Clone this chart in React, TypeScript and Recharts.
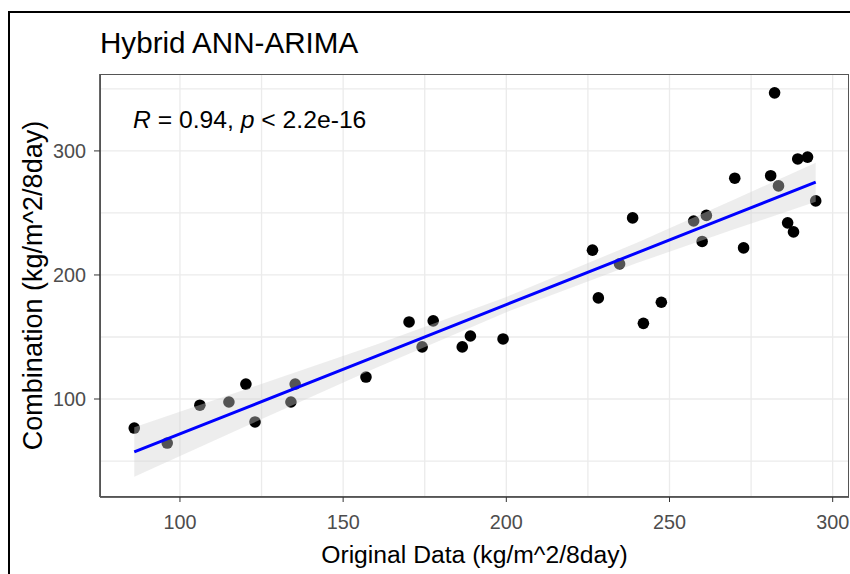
import React from "react";
import {
  ComposedChart,
  Scatter,
  Area,
  Line,
  XAxis,
  YAxis,
  CartesianGrid,
} from "recharts";

const originalData = [
  86.0, 96.1, 106.1, 115.0, 120.2, 123.0, 134.0, 135.3, 157.0, 170.2, 174.2,
  177.6, 186.5, 189.0, 199.0, 226.4, 228.2, 234.7, 238.7, 242.0, 247.5, 257.4,
  260.0, 261.3, 270.0, 272.7, 281.0, 282.2, 283.4, 286.2, 288.0, 289.3, 292.3,
  294.8,
];
const combination = [
  76.6, 64.5, 95.0, 97.6, 112.0, 81.5, 97.6, 112.0, 117.7, 162.1, 142.0, 163.0,
  142.0, 150.8, 148.4, 220.0, 181.5, 208.9, 246.0, 161.0, 178.0, 243.5, 227.0,
  248.0, 278.0, 221.8, 280.0, 346.8, 271.8, 242.0, 234.7, 293.5, 295.0, 259.7,
];

// smoother line and its confidence band
const fitX = [86.0, 120, 160, 200, 240, 270, 294.8];
const fitY = [57.3, 92.7, 134.4, 176.1, 217.8, 249.0, 274.9];
const bandLow = [37.3, 77.8, 125.0, 170.0, 209.6, 237.0, 259.0];
const bandHigh = [77.3, 107.6, 143.8, 182.2, 226.0, 261.0, 290.5];

const xTicks = [100, 150, 200, 250, 300];
const yTicks = [100, 200, 300];
const xGrid = [100, 125, 150, 175, 200, 225, 250, 275, 300];
const yGrid = [50, 100, 150, 200, 250, 300, 350];

const points = originalData.map((x, i) => ({ x, y: combination[i] }));
const fitData = fitX.map((x, i) => ({
  x,
  fit: fitY[i],
  band: [bandLow[i], bandHigh[i]],
}));

const FONT = "'Liberation Sans', Arial, Helvetica, sans-serif";

const Dot = (props: any) => (
  <circle cx={props.cx} cy={props.cy} r={5.8} fill="#000000" />
);

export default function App() {
  return (
    <div
      style={{
        position: "absolute",
        left: 0,
        top: 0,
        width: 850,
        height: 574,
        overflow: "hidden",
        background: "#ffffff",
        fontFamily: FONT,
      }}
    >
      {/* outer frame */}
      <div
        style={{
          position: "absolute",
          left: 8,
          top: 11,
          width: 860,
          height: 600,
          border: "2px solid #000",
        }}
      />
      <ComposedChart
        width={850}
        height={574}
        margin={{ top: 74, right: 1, left: 0, bottom: 0 }}
        style={{ position: "absolute", left: 0, top: 0 }}
      >
        <CartesianGrid
          stroke="#ebebeb"
          strokeWidth={1.3}
          verticalValues={xGrid}
          horizontalValues={yGrid}
        />
        <XAxis
          dataKey="x"
          type="number"
          domain={[75.5, 305]}
          allowDataOverflow
          ticks={xTicks}
          height={77}
          tickSize={5}
          tickMargin={13}
          stroke="#333333"
          tick={{ fill: "#4d4d4d", fontSize: 19.8, fontFamily: FONT }}
          axisLine={{ stroke: "#333333", strokeWidth: 1.5 }}
        />
        <YAxis
          type="number"
          domain={[21, 362]}
          allowDataOverflow
          ticks={yTicks}
          width={100}
          tickSize={6}
          tickMargin={8}
          stroke="#333333"
          tick={{ fill: "#4d4d4d", fontSize: 19.8, fontFamily: FONT }}
          axisLine={{ stroke: "#333333", strokeWidth: 1.5 }}
        />
        <Scatter
          data={points}
          dataKey="y"
          shape={Dot}
          isAnimationActive={false}
          zIndex={100}
        />
        <Area
          data={fitData}
          dataKey="band"
          type="linear"
          fill="#d3d3d3"
          fillOpacity={0.4}
          stroke="none"
          activeDot={false}
          isAnimationActive={false}
          zIndex={200}
        />
        <Line
          data={fitData}
          dataKey="fit"
          type="linear"
          stroke="#0000ff"
          strokeWidth={3}
          dot={false}
          activeDot={false}
          isAnimationActive={false}
          zIndex={300}
        />
      </ComposedChart>
      {/* panel border */}
      <div
        style={{
          position: "absolute",
          left: 100,
          top: 74,
          width: 749,
          height: 423,
          border: "1px solid #555555",
          boxSizing: "border-box",
          pointerEvents: "none",
        }}
      />
      <svg
        width={850}
        height={574}
        style={{ position: "absolute", left: 0, top: 0, pointerEvents: "none" }}
      >
        <text x={100} y={53} fontSize={29.6} fill="#000" fontFamily={FONT}>
          Hybrid ANN-ARIMA
        </text>
        <text x={133} y={128} fontSize={24.7} fill="#000" fontFamily={FONT}>
          <tspan fontStyle="italic">R</tspan> = 0.94,{" "}
          <tspan fontStyle="italic">p</tspan> &lt; 2.2e-16
        </text>
        <text
          x={474.5}
          y={563}
          fontSize={24.7}
          fill="#000"
          textAnchor="middle"
          fontFamily={FONT}
        >
          Original Data (kg/m^2/8day)
        </text>
        <text
          x={42}
          y={285.5}
          fontSize={27}
          fill="#000"
          textAnchor="middle"
          fontFamily={FONT}
          transform="rotate(-90 42 285.5)"
        >
          Combination (kg/m^2/8day)
        </text>
      </svg>
    </div>
  );
}
